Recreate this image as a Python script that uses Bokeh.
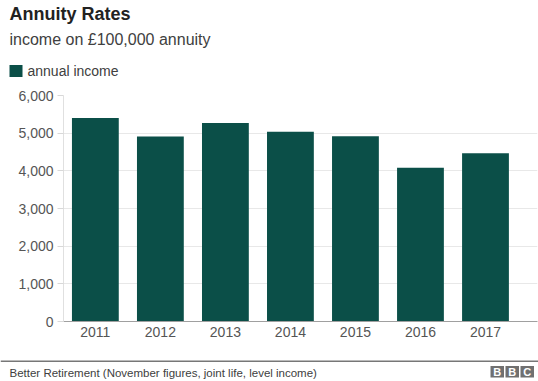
from bokeh.plotting import figure
from bokeh.layouts import column
from bokeh.models import (Range1d, FixedTicker, NumeralTickFormatter, Label,
                          BoxAnnotation)
from bokeh.embed import file_html
from bokeh.resources import INLINE

# ---- data ----
years = ["2011", "2012", "2013", "2014", "2015", "2016", "2017"]
annual_income = [5400, 4910, 5270, 5040, 4920, 4080, 4470]
y_ticks = [0, 1000, 2000, 3000, 4000, 5000, 6000]

title_text = "Annuity Rates"
subtitle_text = "income on £100,000 annuity"
series_name = "annual income"
source_text = "Better Retirement (November figures, joint life, level income)"
logo_letters = ["B", "B", "C"]

BAR = "#0b4f48"
FONT = "Liberation Sans"
W = 538
HEAD_H = 87
MAIN_BOTTOM = 350
TOTAL_H = 381


def blank(height, top):
    f = figure(width=W, height=height, output_backend="svg", toolbar_location=None,
               x_range=Range1d(0, W), y_range=Range1d(top + height, top),
               x_axis_type=None, y_axis_type=None,
               min_border=0, min_border_left=0, min_border_right=0,
               min_border_top=0, min_border_bottom=0, frame_align=False)
    f.outline_line_color = None
    f.grid.visible = False
    f.background_fill_color = "white"
    f.border_fill_color = "white"
    return f


# ---- header ----
head = blank(HEAD_H, 0)
head.add_layout(Label(x=9, y=13, text=title_text, text_font=FONT,
                      text_font_style="bold", text_font_size="18px",
                      text_color="#222222", text_baseline="middle", text_align="left"))
head.add_layout(Label(x=9, y=39, text=subtitle_text, text_font=FONT,
                      text_font_size="16px", text_color="#404040",
                      text_baseline="middle", text_align="left"))
# legend key
head.add_layout(BoxAnnotation(left=9, right=22, top=64.5, bottom=76.5,
                              fill_color=BAR, fill_alpha=1, line_color=None))
head.add_layout(Label(x=27, y=70.5, text=series_name, text_font=FONT,
                      text_font_size="14px", text_color="#404040",
                      text_baseline="middle", text_align="left"))

# ---- main chart ----
p = figure(width=W, height=MAIN_BOTTOM - HEAD_H, output_backend="svg",
           toolbar_location=None, frame_align=False,
           x_range=Range1d(-0.49, 6.8), y_range=Range1d(0, 6000),
           min_border_left=63, min_border_right=1,
           min_border_top=95 - HEAD_H, min_border_bottom=MAIN_BOTTOM - 321)
p.outline_line_color = None
p.background_fill_color = "white"
p.border_fill_color = "white"

xs = list(range(len(years)))
p.vbar(x=xs, top=annual_income, width=0.72, fill_color=BAR, line_color=None,
       legend_label=series_name)
p.legend.visible = False

p.xaxis.ticker = FixedTicker(ticks=xs)
p.xaxis.major_label_overrides = {i: y for i, y in zip(xs, years)}
p.xaxis.major_tick_out = 0
p.xaxis.major_tick_in = 0
p.xaxis.minor_tick_out = 0
p.xaxis.axis_line_color = "#a0a0a0"
p.xaxis.major_label_standoff = 5
p.xaxis.major_label_text_font = FONT
p.xaxis.major_label_text_font_size = "14px"
p.xaxis.major_label_text_color = "#555555"

p.yaxis.ticker = FixedTicker(ticks=y_ticks)
p.yaxis.formatter = NumeralTickFormatter(format="0,0")
p.yaxis.major_tick_out = 6
p.yaxis.major_tick_in = 0
p.yaxis.minor_tick_out = 0
p.yaxis.major_tick_line_color = "#d8d8d8"
p.yaxis.axis_line_color = "#e0e0e0"
p.yaxis.major_label_standoff = 4
p.yaxis.major_label_text_font = FONT
p.yaxis.major_label_text_font_size = "14px"
p.yaxis.major_label_text_color = "#555555"

p.xgrid.grid_line_color = None
p.ygrid.grid_line_color = "#e8e8e8"

# ---- footer ----
foot = blank(TOTAL_H - MAIN_BOTTOM, MAIN_BOTTOM)
foot.add_layout(BoxAnnotation(left=0, right=W, top=360, bottom=361.5,
                              fill_color="#777777", fill_alpha=1, line_color=None))
foot.add_layout(Label(x=9, y=372, text=source_text, text_font=FONT,
                      text_font_size="11.5px", text_color="#404040",
                      text_baseline="middle", text_align="left"))
for i, ch in enumerate(logo_letters):
    l = 490 + i * 15
    foot.add_layout(BoxAnnotation(left=l, right=l + 13.5, top=365.5, bottom=377,
                                  fill_color="#707070", fill_alpha=1, line_color=None))
    foot.add_layout(Label(x=l + 6.75, y=371.5, text=ch, text_font=FONT,
                          text_font_style="bold", text_font_size="11px",
                          text_color="white", text_baseline="middle",
                          text_align="center"))

layout = column(head, p, foot, spacing=0)
open("out.html", "w").write(file_html(layout, INLINE))
